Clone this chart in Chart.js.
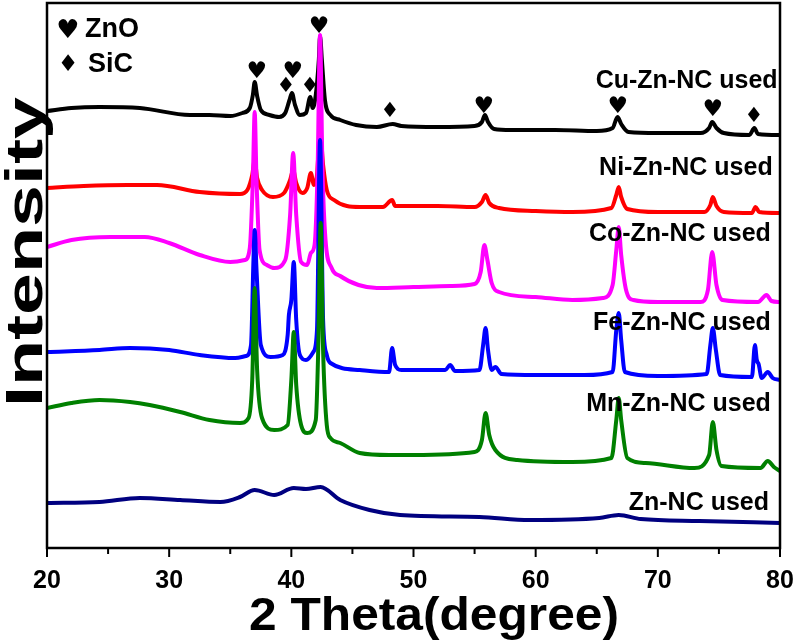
<!DOCTYPE html>
<html>
<head>
<meta charset="utf-8">
<script src="https://cdn.jsdelivr.net/npm/chart.js@4/dist/chart.umd.min.js"></script>
<style>
  body { margin: 0; background: #fff; }
  #wrap { width: 796px; height: 641px; }
</style>
</head>
<body>
<div id="wrap"><canvas id="chart"></canvas></div>
<script>
// ---------------- DATA (2 theta in degree, intensity in a.u., stacked) ----------------
const seriesNames = ["Cu-Zn-NC used", "Ni-Zn-NC used", "Co-Zn-NC used", "Fe-Zn-NC used", "Mn-Zn-NC used", "Zn-NC used"];
const seriesColors = ["#000000", "#ff0000", "#ff00ff", "#0000ff", "#008000", "#000080"];

const thetaCu = [20, 22, 24.3, 27.6, 31.7, 33.3, 35, 36, 36.6, 36.85, 37, 37.2, 37.5, 38.2, 39, 39.5, 39.85, 40.05, 40.3, 40.7, 41.2, 41.55, 41.75, 42, 42.25, 42.35, 42.5, 42.75, 43.2, 44, 45.3, 47, 48.3, 49, 52, 55, 55.6, 55.85, 56.1, 56.6, 58, 61.6, 65, 66.3, 66.7, 67, 67.6, 70, 73.5, 74.2, 74.45, 74.8, 75.4, 77.5, 77.9, 78.2, 80];
const intCu = [437, 440, 441, 440, 433, 433, 432, 435, 440, 453, 466, 452, 438, 433, 431, 435, 448, 455, 443, 433, 435, 451, 440, 453, 488, 512, 488, 448, 433, 428, 423, 421, 424, 422, 421, 422, 426, 433, 426, 419, 418, 418, 417, 420, 431, 424, 416, 415, 415, 420, 426, 420, 415, 413, 420, 414, 413];

const thetaNi = [20, 23, 26.6, 29, 32.5, 35.8, 36.4, 36.8, 37, 37.2, 37.6, 38.5, 39.4, 39.9, 40.15, 40.4, 40.9, 41.3, 41.6, 41.85, 42.1, 42.35, 42.6, 42.9, 43.5, 45.6, 47.5, 48.25, 48.5, 52, 55, 55.6, 55.9, 56.2, 57, 60, 63, 66.2, 66.6, 66.8, 67, 67.5, 70, 73.8, 74.3, 74.5, 74.8, 75.4, 77.7, 78, 78.3, 80];
const intNi = [360, 362, 363, 363, 356, 354, 358, 373, 388, 370, 358, 351, 355, 368, 378, 365, 355, 360, 375, 363, 373, 418, 383, 358, 348, 341, 341, 348, 342, 342, 341, 346, 353, 345, 340, 337, 336, 340, 353, 361, 351, 339, 336, 336, 343, 351, 342, 336, 335, 341, 336, 335];

const thetaCo = [20, 22, 25.2, 28, 30, 32.5, 35, 36.2, 36.6, 36.85, 37, 37.15, 37.4, 38, 38.6, 39.5, 39.9, 40.15, 40.4, 40.8, 41.3, 41.6, 41.9, 42.15, 42.35, 42.55, 42.8, 43.3, 44, 45.5, 47, 50, 53, 55, 55.5, 55.8, 56.05, 56.4, 57, 60, 63, 65.5, 66.3, 66.6, 66.8, 67, 67.4, 68, 70, 73.5, 74.1, 74.45, 74.8, 75.3, 78.2, 78.9, 79.3, 80];
const intCo = [301, 308, 311, 311, 305, 293, 286, 288, 300, 368, 436, 368, 298, 283, 280, 288, 333, 395, 333, 286, 283, 295, 303, 378, 513, 378, 308, 280, 272, 263, 260, 261, 262, 264, 276, 303, 288, 265, 256, 251, 248, 250, 263, 298, 321, 293, 258, 248, 246, 246, 258, 296, 263, 248, 246, 253, 247, 246];

const thetaFe = [20, 24.3, 26.8, 30, 32.5, 35.4, 36.3, 36.7, 36.9, 37, 37.15, 37.5, 38.3, 39.3, 39.7, 39.8, 40, 40.2, 40.4, 40.7, 41.2, 41.8, 42.1, 42.35, 42.6, 42.9, 43.2, 45.6, 48, 48.25, 48.5, 49, 52.6, 53, 53.4, 55.4, 55.7, 55.9, 56.1, 56.4, 56.7, 57.2, 60, 64, 66.3, 66.6, 66.8, 67, 67.3, 70, 74, 74.3, 74.5, 74.75, 75.1, 77.7, 77.95, 78.1, 78.25, 78.5, 79, 79.4, 80];
const intFe = [196, 198, 200, 198, 193, 190, 192, 203, 288, 318, 278, 203, 191, 193, 213, 233, 248, 286, 228, 193, 188, 196, 218, 408, 228, 193, 185, 178, 176, 200, 183, 178, 178, 183, 177, 178, 203, 220, 198, 178, 181, 174, 173, 173, 176, 218, 235, 208, 176, 172, 174, 203, 220, 198, 173, 171, 203, 188, 184, 170, 176, 170, 168];

const thetaMn = [20, 22, 24.3, 26.8, 28.4, 30.9, 33.3, 35.8, 36.5, 36.8, 37, 37.2, 37.6, 38.6, 39.7, 40, 40.2, 40.4, 40.8, 41.3, 42, 42.2, 42.4, 42.6, 42.9, 43.2, 44, 45.6, 48, 50, 55, 55.6, 55.9, 56.2, 56.7, 58.5, 63, 66.2, 66.6, 66.8, 67, 67.5, 69, 73, 74.2, 74.5, 74.8, 75.2, 78.4, 79, 79.5, 80];
const intMn = [140, 145, 148, 146, 143, 136, 128, 125, 130, 168, 260, 178, 130, 118, 123, 168, 216, 163, 123, 115, 128, 198, 325, 198, 123, 110, 105, 95, 93, 93, 96, 108, 135, 113, 98, 88, 86, 90, 128, 150, 128, 90, 85, 80, 93, 126, 98, 82, 80, 87, 81, 77];

const thetaZn = [20, 24.3, 27.6, 30.9, 34.2, 35.8, 37, 38.6, 40.2, 41.2, 42.4, 44, 46.4, 48.9, 55.4, 59.5, 65.2, 66.8, 68.6, 73.4, 80];
const intZn = [45, 46, 50, 48, 46, 51, 58, 53, 60, 59, 61, 48, 38, 33, 31, 28, 30, 33, 29, 27, 25];

// phase markers: ZnO (heart) and SiC (diamond)
const znoTheta = [37.18, 40.13, 42.26, 55.76, 66.73, 74.5];
const znoLevel = [476, 476, 521, 441, 441, 438];
const sicTheta = [39.56, 41.52, 48.07, 77.86];
const sicLevel = [461, 461, 436, 431];

// curve labels (right aligned)
const labelTheta = [79.8, 79.4, 79.25, 79.25, 79.25, 79.1];
const labelLevel = [467, 380, 314, 225, 144, 45];

const xTicks = [20, 30, 40, 50, 60, 70, 80];

const thetaSets = [thetaCu, thetaNi, thetaCo, thetaFe, thetaMn, thetaZn];
const intSets = [intCu, intNi, intCo, intFe, intMn, intZn];

const FONT = "'Liberation Sans', Arial, sans-serif";

// ---------------- DECORATION PLUGIN ----------------
const decor = {
  id: "decor",
  afterDatasetsDraw(chart) {
    const { ctx, chartArea: a, scales } = chart;
    const xs = scales.x, ys = scales.y;
    ctx.save();

    // frame
    ctx.strokeStyle = "#000";
    ctx.lineWidth = 2.5;
    ctx.strokeRect(a.left, a.top, a.right - a.left, a.bottom - a.top);

    // x ticks (major + minor, outward)
    ctx.lineWidth = 2;
    for (let v = 20; v <= 80; v += 5) {
      const px = xs.getPixelForValue(v);
      const len = v % 10 === 0 ? 9 : 6;
      ctx.beginPath();
      ctx.moveTo(px, a.bottom);
      ctx.lineTo(px, a.bottom + len);
      ctx.stroke();
    }

    ctx.fillStyle = "#000";

    // curve labels
    ctx.font = "bold 25px " + FONT;
    ctx.textAlign = "right";
    ctx.textBaseline = "middle";
    seriesNames.forEach((name, i) => {
      ctx.fillText(name, xs.getPixelForValue(labelTheta[i]), ys.getPixelForValue(labelLevel[i]));
    });

    // phase markers
    ctx.textAlign = "center";
    ctx.font = "23px 'DejaVu Sans'";
    znoTheta.forEach((t, i) => {
      ctx.fillText("\u2665", xs.getPixelForValue(t), ys.getPixelForValue(znoLevel[i]));
    });
    ctx.font = "21px 'DejaVu Sans'";
    sicTheta.forEach((t, i) => {
      ctx.fillText("\u2666", xs.getPixelForValue(t), ys.getPixelForValue(sicLevel[i]));
    });

    // legend
    ctx.font = "26px 'DejaVu Sans'";
    ctx.fillText("\u2665", a.left + 21, a.top + 28);
    ctx.font = "23px 'DejaVu Sans'";
    ctx.fillText("\u2666", a.left + 21, a.top + 62);
    ctx.textAlign = "left";
    ctx.font = "bold 27px " + FONT;
    ctx.fillText("ZnO", a.left + 38, a.top + 27);
    ctx.fillText("SiC", a.left + 41, a.top + 62);

    // axis titles
    ctx.textAlign = "center";
    ctx.textBaseline = "alphabetic";
    ctx.save();
    ctx.translate(434, 630);
    ctx.scale(1.08, 1);
    ctx.font = "bold 46px " + FONT;
    ctx.fillText("2 Theta(degree)", 0, 0);
    ctx.restore();

    ctx.translate(42, 252);
    ctx.rotate(-Math.PI / 2);
    ctx.scale(1.45, 1);
    ctx.font = "bold 52px " + FONT;
    ctx.fillText("Intensity", 0, 0);

    ctx.restore();
  },
};

// ---------------- CHART ----------------
const datasets = seriesNames.map((name, i) => ({
  label: name,
  data: thetaSets[i].map((t, k) => ({ x: t, y: intSets[i][k] })),
  borderColor: seriesColors[i],
  borderWidth: 4,
  pointRadius: 0,
  cubicInterpolationMode: "monotone",
  order: seriesNames.length - i,
}));

new Chart(document.getElementById("chart"), {
  type: "line",
  data: { datasets },
  options: {
    responsive: true,
    maintainAspectRatio: false,
    animation: false,
    layout: { padding: { top: 3, right: 16, left: 0, bottom: 0 } },
    plugins: {
      legend: { display: false },
      tooltip: { enabled: false },
    },
    scales: {
      x: {
        type: "linear",
        min: 20,
        max: 80,
        afterFit: (s) => { s.height = 93; s.paddingLeft = 0; s.paddingRight = 0; },
        afterBuildTicks: (s) => { s.ticks = xTicks.map((v) => ({ value: v })); },
        grid: { display: false, drawTicks: false },
        border: { display: false },
        ticks: {
          color: "#000",
          padding: 18,
          font: { family: FONT, size: 25, weight: "bold" },
        },
      },
      y: {
        min: 0,
        max: 545,
        afterFit: (s) => { s.width = 47; s.paddingTop = 0; s.paddingBottom = 0; },
        grid: { display: false },
        border: { display: false },
        ticks: { display: false },
      },
    },
  },
  plugins: [decor],
});
</script>
</body>
</html>
